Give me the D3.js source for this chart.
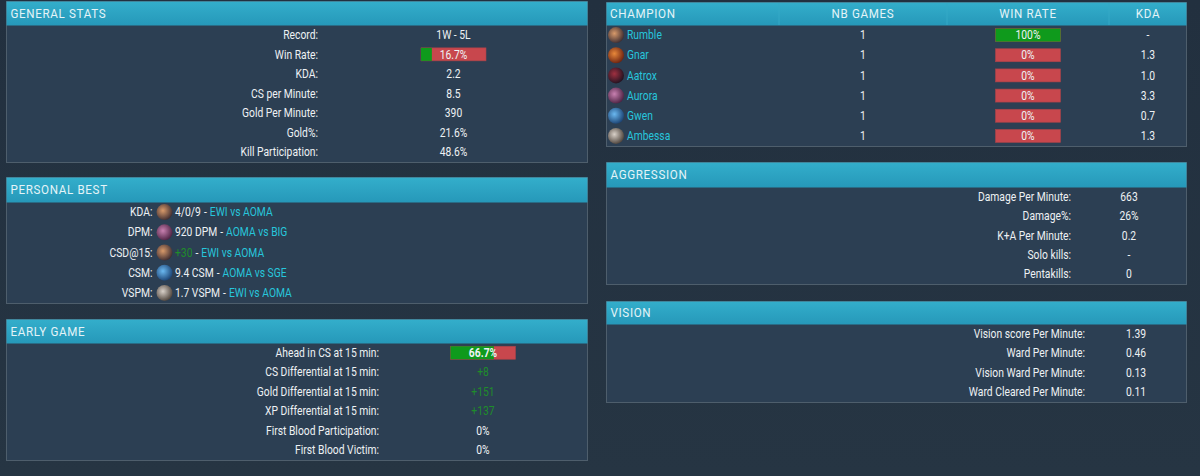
<!DOCTYPE html>
<html lang="en">
<head>
    <meta charset="UTF-8">
    <title>Player Stats</title>
    <script src="https://d3js.org/d3.v7.min.js"></script>
    <style>
        html, body {
            margin: 0;
            padding: 0;
            background: #243242;
            overflow: hidden;
        }

        .cond {
            font-family: "Roboto", sans-serif;
            font-size: 12px;
            fill: #eef1f4;
        }

        .head {
            font-family: "Roboto", sans-serif;
            font-size: 12.5px;
            letter-spacing: 0.7px;
            fill: #e4f4f8;
        }
    </style>
</head>
<body>
    <div id="chart"></div>

    <script>
        // General stats
        const generalLabels = ["Record:", "Win Rate:", "KDA:", "CS per Minute:", "Gold Per Minute:", "Gold%:", "Kill Participation:"];
        const generalValues = ["1W - 5L", 16.7, "2.2", "8.5", "390", "21.6%", "48.6%"];

        // Personal best
        const bestLabels = ["KDA:", "DPM:", "CSD@15:", "CSM:", "VSPM:"];
        const bestChamps = ["Rumble", "Aurora", "Rumble", "Gwen", "Ambessa"];
        const bestValues = ["4/0/9", "920 DPM", "+30", "9.4 CSM", "1.7 VSPM"];
        const bestMatches = ["EWI vs AOMA", "AOMA vs BIG", "EWI vs AOMA", "AOMA vs SGE", "EWI vs AOMA"];

        // Early game
        const earlyLabels = ["Ahead in CS at 15 min:", "CS Differential at 15 min:", "Gold Differential at 15 min:", "XP Differential at 15 min:", "First Blood Participation:", "First Blood Victim:"];
        const earlyValues = [66.7, "+8", "+151", "+137", "0%", "0%"];

        // Champions
        const champColumns = ["CHAMPION", "NB GAMES", "WIN RATE", "KDA"];
        const champNames = ["Rumble", "Gnar", "Aatrox", "Aurora", "Gwen", "Ambessa"];
        const champGames = [1, 1, 1, 1, 1, 1];
        const champWinRates = [100, 0, 0, 0, 0, 0];
        const champKda = ["-", "1.3", "1.0", "3.3", "0.7", "1.3"];

        // Aggression
        const aggroLabels = ["Damage Per Minute:", "Damage%:", "K+A Per Minute:", "Solo kills:", "Pentakills:"];
        const aggroValues = ["663", "26%", "0.2", "-", "0"];

        // Vision
        const visionLabels = ["Vision score Per Minute:", "Ward Per Minute:", "Vision Ward Per Minute:", "Ward Cleared Per Minute:"];
        const visionValues = ["1.39", "0.46", "0.13", "0.11"];

        // icon tints (style only)
        const iconColors = {
            Rumble: ["#d89a6a", "#3a2a30"],
            Gnar: ["#e8883a", "#6a2010"],
            Aatrox: ["#a03040", "#1e1220"],
            Aurora: ["#c880b0", "#4a2040"],
            Gwen: ["#6ab8f0", "#1a4070"],
            Ambessa: ["#d8d0c8", "#4a4038"]
        };

        const W = 1200, H = 476;
        const GREEN = "#0f9a1c", RED = "#c8474d", CYAN = "#27c6dc", DIFF = "#1f8c2b";
        const SQUEEZE = 0.86, HEAD_SQUEEZE = 0.93;

        const svg = d3.select("#chart").append("svg")
            .attr("width", W)
            .attr("height", H);

        const defs = svg.append("defs");

        const bg = defs.append("linearGradient").attr("id", "bg").attr("x1", 0).attr("y1", 0).attr("x2", 0).attr("y2", 1);
        bg.append("stop").attr("offset", "0%").attr("stop-color", "#22303f");
        bg.append("stop").attr("offset", "100%").attr("stop-color", "#263543");

        const hg = defs.append("linearGradient").attr("id", "headGrad").attr("x1", 0).attr("y1", 0).attr("x2", 0).attr("y2", 1);
        hg.append("stop").attr("offset", "0%").attr("stop-color", "#33aecb");
        hg.append("stop").attr("offset", "100%").attr("stop-color", "#2698b9");

        Object.entries(iconColors).forEach(([name, c]) => {
            const rg = defs.append("radialGradient").attr("id", "ic-" + name)
                .attr("cx", "40%").attr("cy", "40%").attr("r", "65%");
            rg.append("stop").attr("offset", "0%").attr("stop-color", c[0]);
            rg.append("stop").attr("offset", "100%").attr("stop-color", c[1]);
        });

        svg.append("rect").attr("width", W).attr("height", H).attr("fill", "url(#bg)");

        // squeeze one text node horizontally (keeps its anchor point), return its new width
        function squeeze(node, ratio) {
            const x = +node.getAttribute("x");
            node.setAttribute("x", x / ratio);
            node.setAttribute("transform", `scale(${ratio},1)`);
            node.classList.add("sq");
            return node.getComputedTextLength() * ratio;
        }

        // panel frame: header + body, returns band scale for rows
        function drawPanel(x, top, width, headBottom, bottom, title, nRows) {
            const g = svg.append("g");
            g.append("rect")
                .attr("x", x + 0.5).attr("y", top + 0.5)
                .attr("width", width).attr("height", bottom - top)
                .attr("fill", "#2c3f53")
                .attr("stroke", "#4e5e6c");
            g.append("rect")
                .attr("x", x + 0.5).attr("y", top + 0.5)
                .attr("width", width).attr("height", headBottom - top)
                .attr("fill", "url(#headGrad)");
            if (title) {
                g.append("text")
                    .attr("class", "head")
                    .attr("x", x + 4.5)
                    .attr("y", (top + headBottom) / 2 + 0.5)
                    .attr("dy", "0.35em")
                    .text(title);
            }
            const rows = d3.scaleBand()
                .domain(d3.range(nRows))
                .range([headBottom, bottom]);
            return { g, rows };
        }

        function rateBar(g, cx, cy, value, label, bold) {
            const bw = 65, bh = 13;
            const sx = d3.scaleLinear().domain([0, 100]).range([0, bw]);
            const x0 = cx - bw / 2;
            g.append("rect").attr("x", x0).attr("y", cy - bh / 2)
                .attr("width", bw).attr("height", bh).attr("fill", RED)
                .attr("stroke", "#a8444a").attr("stroke-width", 0.6);
            g.append("rect").attr("x", x0).attr("y", cy - bh / 2)
                .attr("width", sx(value)).attr("height", bh).attr("fill", GREEN);
            g.append("text").attr("class", "cond")
                .attr("x", cx).attr("y", cy).attr("dy", "0.35em")
                .attr("text-anchor", "middle")
                .style("font-weight", bold ? "bold" : "normal")
                .text(label);
        }

        function statPanel(x, top, width, headBottom, bottom, title, labels, values, labelRight, valueCenter) {
            const { g, rows } = drawPanel(x, top, width, headBottom, bottom, title, labels.length);
            labels.forEach((lab, i) => {
                const cy = rows(i) + rows.bandwidth() / 2;
                g.append("text").attr("class", "cond")
                    .attr("x", x + labelRight).attr("y", cy).attr("dy", "0.35em")
                    .attr("text-anchor", "end")
                    .text(lab);
                const v = values[i];
                if (typeof v === "number") {
                    rateBar(g, x + valueCenter, cy, v, v + "%", v > 50);
                } else {
                    g.append("text").attr("class", "cond")
                        .attr("x", x + valueCenter).attr("y", cy).attr("dy", "0.35em")
                        .attr("text-anchor", "middle")
                        .style("fill", v.startsWith("+") ? DIFF : null)
                        .text(v);
                }
            });
        }

        // left column
        statPanel(6, 1, 581, 25, 162, "GENERAL STATS", generalLabels, generalValues, 312, 447.5);

        (function bestPanel() {
            const x = 6;
            const { g, rows } = drawPanel(x, 177, 581, 202, 303, "PERSONAL BEST", bestLabels.length);
            bestLabels.forEach((lab, i) => {
                const cy = rows(i) + rows.bandwidth() / 2;
                g.append("text").attr("class", "cond")
                    .attr("x", 152.5).attr("y", cy).attr("dy", "0.35em")
                    .attr("text-anchor", "end").text(lab);
                g.append("circle").attr("cx", 164.5).attr("cy", cy).attr("r", 8)
                    .attr("fill", "url(#ic-" + bestChamps[i] + ")");
                // value, dash, match as separate pieces laid end to end
                const pieces = [
                    [bestValues[i], bestValues[i].startsWith("+") ? DIFF : null],
                    ["-", null],
                    [bestMatches[i], CYAN]
                ];
                let px = 175;
                pieces.forEach(([str, fill]) => {
                    const t = g.append("text").attr("class", "cond")
                        .attr("x", px).attr("y", cy).attr("dy", "0.35em")
                        .style("fill", fill)
                        .text(str);
                    px += squeeze(t.node(), SQUEEZE) + 3;
                });
            });
        })();

        statPanel(6, 319, 581, 343, 460, "EARLY GAME", earlyLabels, earlyValues, 373, 477);

        // right column: champion table
        (function champPanel() {
            const x = 606;
            const { g, rows } = drawPanel(x, 2, 580, 25, 146, null, champNames.length);
            const colX = [x + 4, 863, 1028, 1148];
            champColumns.forEach((c, i) => {
                g.append("text").attr("class", "head")
                    .attr("x", colX[i]).attr("y", 14).attr("dy", "0.35em")
                    .attr("text-anchor", i === 0 ? "start" : "middle")
                    .text(c);
            });
            [779, 947, 1109].forEach(sx => {
                g.append("line").attr("x1", sx).attr("x2", sx).attr("y1", 3).attr("y2", 25)
                    .attr("stroke", "#34a9c6").attr("stroke-width", 1);
            });
            champNames.forEach((name, i) => {
                const cy = rows(i) + rows.bandwidth() / 2;
                g.append("circle").attr("cx", 616).attr("cy", cy).attr("r", 8)
                    .attr("fill", "url(#ic-" + name + ")");
                g.append("text").attr("class", "cond")
                    .attr("x", 627).attr("y", cy).attr("dy", "0.35em")
                    .style("fill", CYAN).text(name);
                g.append("text").attr("class", "cond")
                    .attr("x", colX[1]).attr("y", cy).attr("dy", "0.35em")
                    .attr("text-anchor", "middle").text(champGames[i]);
                rateBar(g, colX[2], cy, champWinRates[i], champWinRates[i] + "%", false);
                g.append("text").attr("class", "cond")
                    .attr("x", colX[3]).attr("y", cy).attr("dy", "0.35em")
                    .attr("text-anchor", "middle").text(champKda[i]);
            });
        })();

        statPanel(606, 162, 580, 187, 284, "AGGRESSION", aggroLabels, aggroValues, 465, 523);
        statPanel(606, 301, 580, 324, 402, "VISION", visionLabels, visionValues, 479, 530);

        // condense the remaining Roboto text to mimic the narrow site font
        svg.selectAll("text.cond:not(.sq)").each(function() { squeeze(this, SQUEEZE); });
        svg.selectAll("text.head").each(function() { squeeze(this, HEAD_SQUEEZE); });
    </script>
</body>
</html>
